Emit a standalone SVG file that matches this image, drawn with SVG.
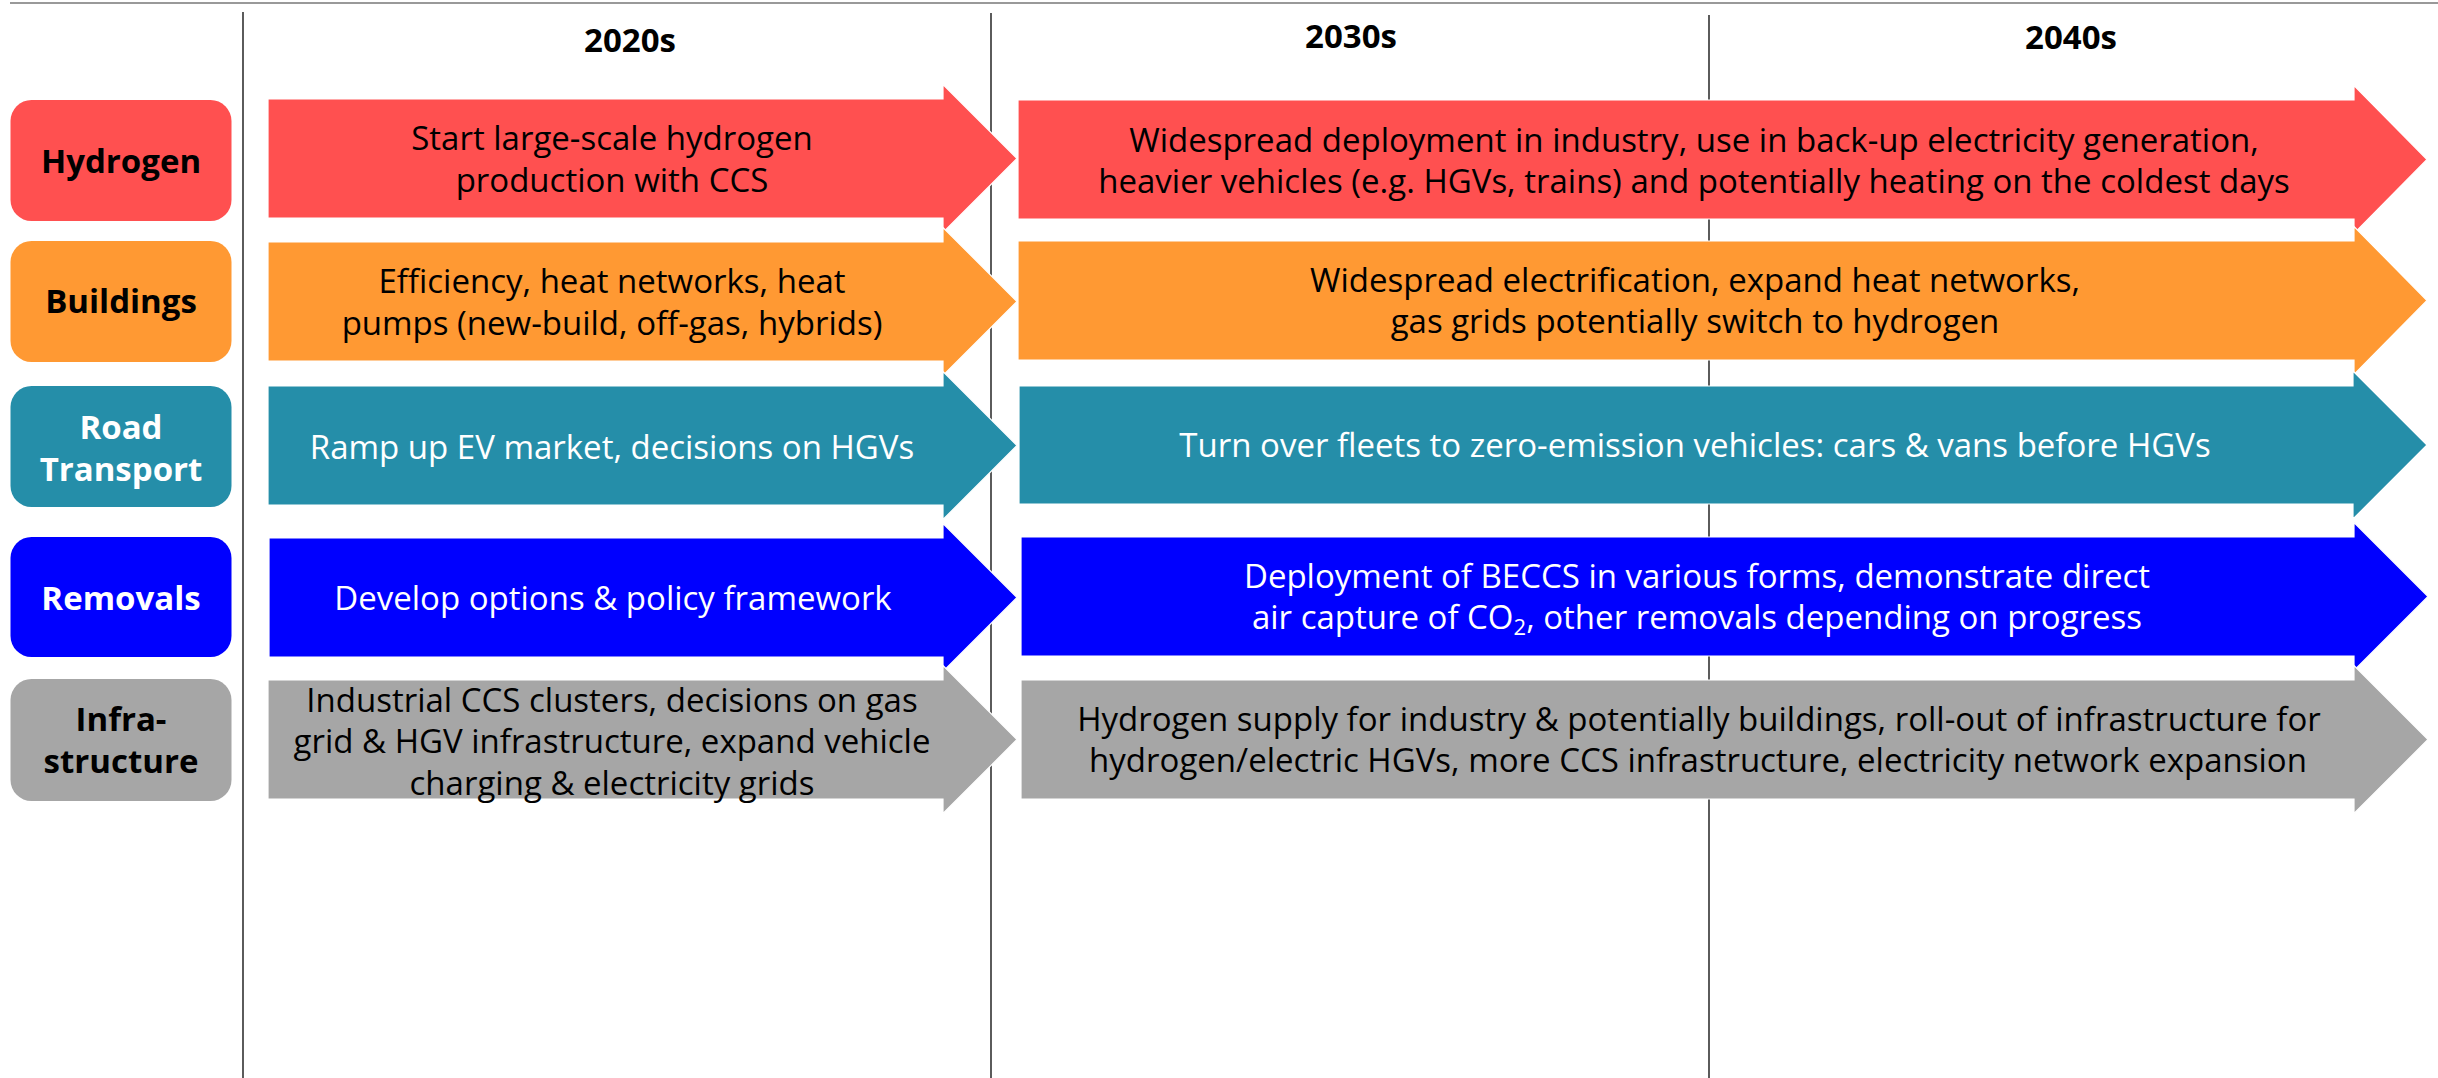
<svg xmlns="http://www.w3.org/2000/svg" width="2438" height="1078" viewBox="0 0 2438 1078">
<style>
text{font-family:"Open Sans","Noto Sans","Liberation Sans",sans-serif;font-size:33px;text-anchor:middle}
.b{font-weight:bold}
.w{fill:#ffffff}
.k{fill:#000000}
.grid{stroke:#333333;stroke-width:1.6;fill:none}
.red{fill:#FF5050}
.org{fill:#FF9933}
.teal{fill:#258EA9}
.blue{fill:#0000FF}
.gray{fill:#A6A6A6}
.arr{stroke:#ffffff;stroke-width:1.2}
</style>
<rect width="2438" height="1078" fill="#ffffff"/>
<g id="grid">
<line x1="10" y1="3" x2="2438" y2="3" stroke="#999999" stroke-width="2"/>
<line class="grid" x1="243" y1="12" x2="243" y2="1078"/>
<line class="grid" x1="991" y1="13" x2="991" y2="1078"/>
<line class="grid" x1="1709" y1="15" x2="1709" y2="1078"/>
</g>
<g id="years">
<text class="b k" x="630" y="52">2020s</text>
<text class="b k" x="1351" y="48">2030s</text>
<text class="b k" x="2071" y="49">2040s</text>
</g>
<g id="label-hydrogen">
<rect class="red" x="10.5" y="100" width="221" height="121" rx="21"/>
<text class="b k" x="121" y="173">Hydrogen</text>
</g>
<g id="label-buildings">
<rect class="org" x="10.5" y="241" width="221" height="121" rx="21"/>
<text class="b k" x="121" y="313">Buildings</text>
</g>
<g id="label-road">
<rect class="teal" x="10.5" y="386" width="221" height="121" rx="21"/>
<text class="b w" x="121" y="439">Road</text>
<text class="b w" x="121" y="481">Transport</text>
</g>
<g id="label-removals">
<rect class="blue" x="10.5" y="537" width="221" height="120" rx="21"/>
<text class="b w" x="121" y="610">Removals</text>
</g>
<g id="label-infra">
<rect class="gray" x="10.5" y="679" width="221" height="122" rx="21"/>
<text class="b k" x="121" y="731">Infra-</text>
<text class="b k" x="121" y="773">structure</text>
</g>
<g id="hydrogen-2020s">
<polygon class="red arr" points="268,99 943,99 943,84.5 1017,158.5 943,232.5 943,218 268,218"/>
<text class="k" x="612" y="150">Start large-scale hydrogen</text>
<text class="k" x="612" y="192">production with CCS</text>
</g>
<g id="buildings-2020s">
<polygon class="org arr" points="268,242 943,242 943,227.5 1017,301.5 943,375.5 943,361 268,361"/>
<text class="k" x="612" y="293">Efficiency, heat networks, heat</text>
<text class="k" x="612" y="335">pumps (new-build, off-gas, hybrids)</text>
</g>
<g id="road-2020s">
<polygon class="teal arr" points="268,386 943,386 943,371.5 1017,445.5 943,519.5 943,505 268,505"/>
<text class="w" x="612" y="459">Ramp up EV market, decisions on HGVs</text>
</g>
<g id="removals-2020s">
<polygon class="blue arr" points="269,538 943,538 943,523.5 1017,597.5 943,671.5 943,657 269,657"/>
<text class="w" x="613" y="610">Develop options &amp; policy framework</text>
</g>
<g id="infra-2020s">
<polygon class="gray arr" points="268,680 943,680 943,665.5 1017,739.5 943,813.5 943,799 268,799"/>
<text class="k" x="612" y="712">Industrial CCS clusters, decisions on gas</text>
<text class="k" x="612" y="753">grid &amp; HGV infrastructure, expand vehicle</text>
<text class="k" x="612" y="795">charging &amp; electricity grids</text>
</g>
<g id="hydrogen-2030s">
<polygon class="red arr" points="1018,100 2354,100 2354,85.5 2427,159.5 2354,233.5 2354,219 1018,219"/>
<text class="k" x="1694" y="152">Widespread deployment in industry, use in back-up electricity generation,</text>
<text class="k" x="1694" y="193">heavier vehicles (e.g. HGVs, trains) and potentially heating on the coldest days</text>
</g>
<g id="buildings-2030s">
<polygon class="org arr" points="1018,241 2354,241 2354,226.5 2427,300.5 2354,374.5 2354,360 1018,360"/>
<text class="k" x="1695" y="292">Widespread electrification, expand heat networks,</text>
<text class="k" x="1695" y="333">gas grids potentially switch to hydrogen</text>
</g>
<g id="road-2030s">
<polygon class="teal arr" points="1019,386 2353,386 2353,371 2427,445 2353,519 2353,504 1019,504"/>
<text class="w" x="1695" y="457">Turn over fleets to zero-emission vehicles: cars &amp; vans before HGVs</text>
</g>
<g id="removals-2030s">
<polygon class="blue arr" points="1021,537 2354,537 2354,522.5 2428,596.5 2354,670.5 2354,656 1021,656"/>
<text class="w" x="1697" y="588">Deployment of BECCS in various forms, demonstrate direct</text>
<text class="w" x="1697" y="629">air capture of CO<tspan font-size="22" dy="6">2</tspan><tspan dy="-6">, other removals depending on progress</tspan></text>
</g>
<g id="infra-2030s">
<polygon class="gray arr" points="1021,680 2354,680 2354,665.5 2428,739.5 2354,813.5 2354,799 1021,799"/>
<text class="k" x="1699" y="731">Hydrogen supply for industry &amp; potentially buildings, roll-out of infrastructure for</text>
<text class="k" x="1698" y="772">hydrogen/electric HGVs, more CCS infrastructure, electricity network expansion</text>
</g>
</svg>
